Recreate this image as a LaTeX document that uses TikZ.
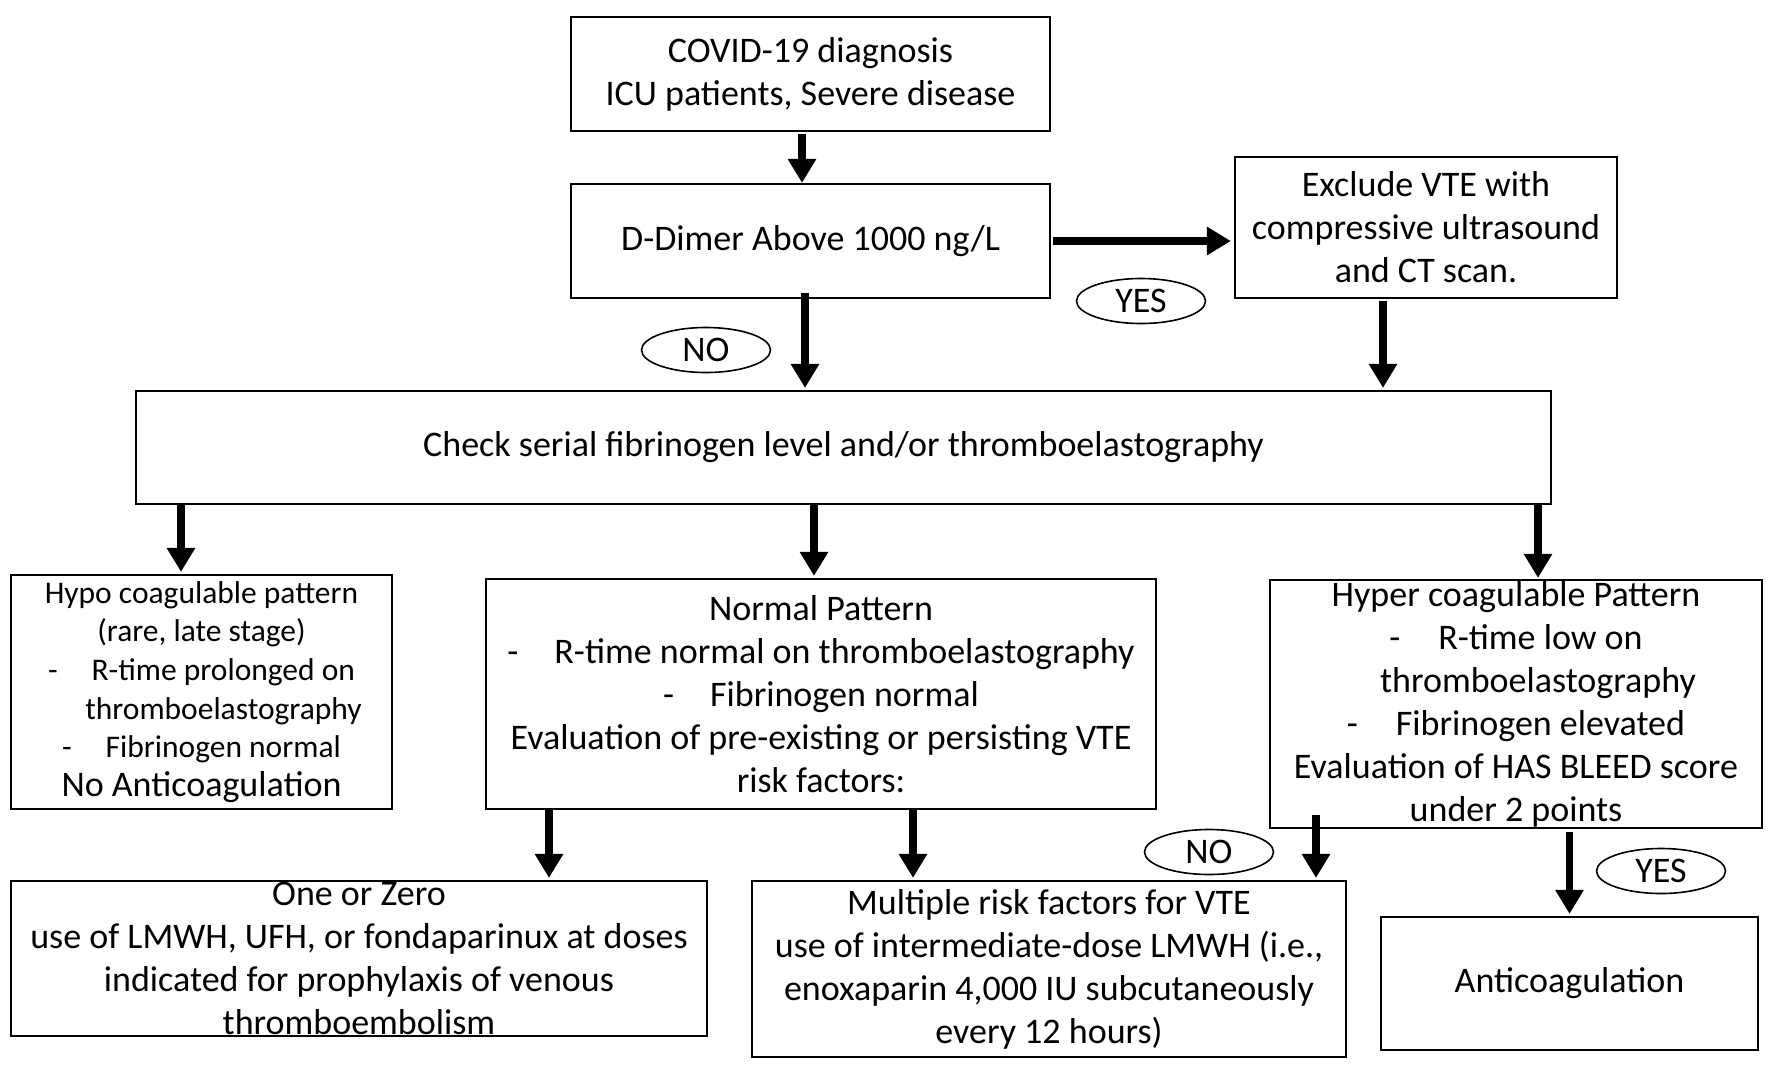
\documentclass[tikz,border=0pt]{standalone}
\usepackage{fontspec}
\setmainfont{Carlito}
\usetikzlibrary{arrows.meta,shapes.geometric}
\begin{document}
\begin{tikzpicture}[x=1pt,y=-1pt,
  box/.style={draw,line width=2.2pt,rectangle,inner sep=0pt,align=center,
    font=\fontsize{36}{43}\selectfont},
  lbl/.style={draw,line width=1.6pt,ellipse,minimum width=129pt,minimum height=45pt,
    inner sep=0pt,font=\fontsize{36}{43}\selectfont},
  arr/.style={line width=7.5pt,-{Triangle[width=27pt,length=24pt]}}
]
\useasboundingbox (0,0) rectangle (1772,1072);
\node[box,minimum width=479pt,minimum height=114pt] (b1) at (810.5,74)
  {COVID-19 diagnosis\\ICU patients, Severe disease};
\node[box,minimum width=479pt,minimum height=114pt] (b2) at (810.5,241)
  {D-Dimer Above 1000 ng/L};
\node[box,minimum width=382pt,minimum height=141pt] (b3) at (1426,227.5)
  {Exclude VTE with\\compressive ultrasound\\and CT scan.};
\node[box,minimum width=1415pt,minimum height=113pt] (b4) at (843.5,447.5)
  {Check serial fibrinogen level and/or thromboelastography};
\node[box,font=\fontsize{31.5}{38.6}\selectfont,minimum width=381pt,minimum height=234pt] (b5) at (201.5,692)
  {Hypo coagulable pattern\\
   (rare, late stage)\\
   -\hspace{34pt}R-time prolonged on\\
   \hspace*{44pt}thromboelastography\\
   -\hspace{34pt}Fibrinogen normal\\
   {\fontsize{36}{40}\selectfont No Anticoagulation}};
\node[box,minimum width=670pt,minimum height=230pt] (b6) at (821,694)
  {Normal Pattern\\
   -\hspace{36pt}R-time normal on thromboelastography\\
   -\hspace{36pt}Fibrinogen normal\\
   Evaluation of pre-existing or persisting VTE\\
   risk factors:};
\node[box,minimum width=492pt,minimum height=248pt] (b7) at (1516,704)
  {Hyper coagulable Pattern\\
   -\hspace{38pt}R-time low on\\
   \hspace*{44pt}thromboelastography\\
   -\hspace{38pt}Fibrinogen elevated\\
   Evaluation of HAS BLEED score\\
   under 2 points};
\node[box,inner ysep=-20pt,minimum width=696pt,minimum height=155pt] (b8) at (359,958.5)
  {One or Zero\\
   use of LMWH, UFH, or fondaparinux at doses\\
   indicated for prophylaxis of venous\\
   thromboembolism};
\node[box,minimum width=594pt,minimum height=176pt] (b9) at (1049,969)
  {Multiple risk factors for VTE\\
   use of intermediate-dose LMWH (i.e.,\\
   enoxaparin 4,000 IU subcutaneously\\
   every 12 hours)};
\node[box,minimum width=377pt,minimum height=133pt] (b10) at (1569.5,983.5)
  {Anticoagulation};
\node[lbl] (yes1) at (1141,301) {YES};
\node[lbl] (no1) at (706,350) {NO};
\node[lbl] (no2) at (1209,852) {NO};
\node[lbl] (yes2) at (1661,871) {YES};
% arrows
\draw[arr] ([xshift=-8.5pt,yshift=-2pt]b1.south) -- ([xshift=-8.5pt]b2.north);
\draw[arr] ([xshift=2pt]b2.east) -- ([xshift=-3pt]b2.east -| b3.west);
\draw[arr] ([xshift=-5.5pt,yshift=6pt]b2.south) -- ([xshift=-5.5pt,yshift=2pt]b2.south |- b4.north);
\draw[arr] ([xshift=-43pt,yshift=-2pt]b3.south) -- ([xshift=-43pt,yshift=2pt]b3.south |- b4.north);
\draw[arr] ([xshift=-20.5pt]b5.north |- b4.south) -- ([xshift=-20.5pt,yshift=2pt]b5.north);
\draw[arr] ([xshift=-7pt]b6.north |- b4.south) -- ([xshift=-7pt,yshift=2pt]b6.north);
\draw[arr] ([xshift=22pt]b7.north |- b4.south) -- ([xshift=22pt,yshift=1pt]b7.north);
\draw[arr] ([xshift=190pt]b8.north |- b6.south) -- ([xshift=190pt,yshift=2pt]b8.north);
\draw[arr] ([xshift=-136pt]b9.north |- b6.south) -- ([xshift=-136pt,yshift=2pt]b9.north);
\draw[arr] ([xshift=267pt,yshift=14pt]b9.north |- b7.south) -- ([xshift=267pt,yshift=2pt]b9.north);
\draw[arr] ([yshift=-3pt]b10.north |- b7.south) -- ([yshift=2pt]b10.north);
\end{tikzpicture}
\end{document}
